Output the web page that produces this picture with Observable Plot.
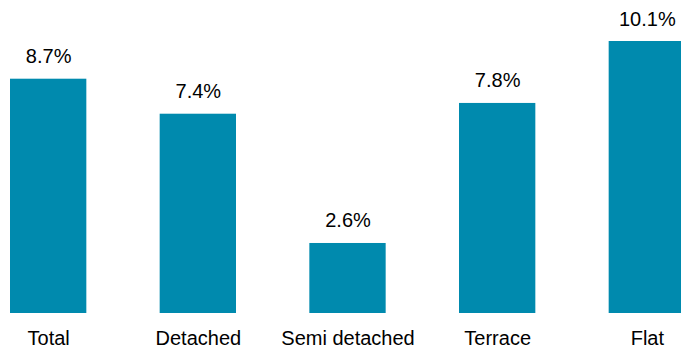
<!DOCTYPE html>
<html>
<head>
<meta charset="utf-8">
<script src="https://cdn.jsdelivr.net/npm/d3@7"></script>
<script src="https://cdn.jsdelivr.net/npm/@observablehq/plot@0.6"></script>
<style>
  html, body { margin: 0; padding: 0; background: #fff; overflow: hidden; }
</style>
</head>
<body>
<div id="chart"></div>
<script>
const categories = ["Total", "Detached", "Semi detached", "Terrace", "Flat"];
const values = [8.7, 7.4, 2.6, 7.8, 10.1];
const labels = ["8.7%", "7.4%", "2.6%", "7.8%", "10.1%"];

const data = categories.map((c, i) => ({category: c, value: values[i], label: labels[i]}));

const chart = Plot.plot({
  width: 681,
  height: 348,
  marginTop: 0,
  marginBottom: 35,
  marginLeft: 10,
  marginRight: 0,
  style: {fontFamily: "'Liberation Sans', Arial, sans-serif", fontSize: "20px", color: "#000", background: "#fff"},
  x: {domain: categories, range: [10, 685], paddingInner: 0.49, paddingOuter: 0, round: false, label: null},
  y: {domain: [0, 10.1], range: [313, 41], axis: null},
  marks: [
    Plot.barY(data, {x: "category", y: "value", fill: "#008AAE"}),
    Plot.text(data, {x: "category", y: "value", text: "label", lineAnchor: "bottom", dy: -16, fontSize: 20, fill: "#000"}),
    Plot.axisX({tickSize: 0, tickPadding: 17, fontSize: 20, label: null, fill: "#000"})
  ]
});
document.getElementById("chart").append(chart);
</script>
</body>
</html>
